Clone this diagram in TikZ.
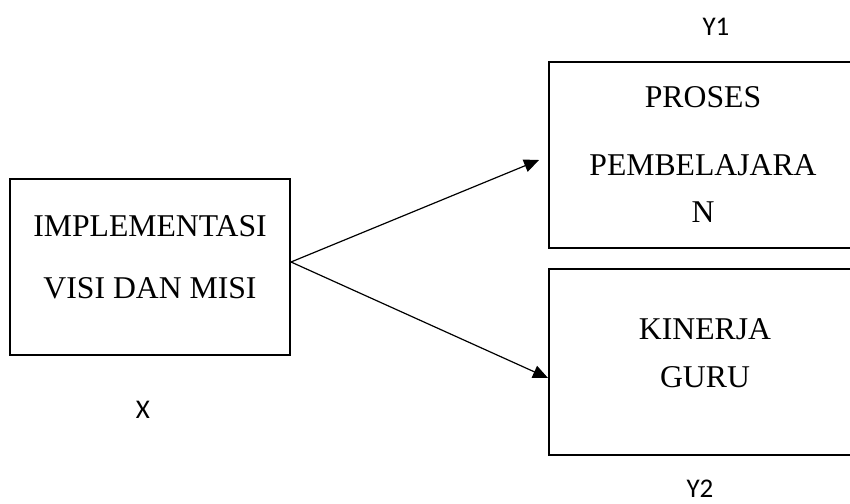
\documentclass[tikz,border=0pt]{standalone}
\usepackage{fontspec}
\setmainfont{Liberation Serif}
\newfontfamily\labfont{Carlito}
\usetikzlibrary{arrows.meta}
\begin{document}
\begin{tikzpicture}[x=1pt,y=-1pt,
  box/.style={draw,line width=2.2pt,inner sep=0pt},
  txt/.style={anchor=base,inner sep=0pt,font=\fontsize{31.7}{38}\selectfont},
  lab/.style={anchor=base,inner sep=0pt,font=\labfont\fontsize{27}{32}\selectfont},
  arr/.style={line width=1.2pt,-{Triangle[length=15pt,width=13pt]}}]
\useasboundingbox (0,0) rectangle (850,503);
\clip (0,0) rectangle (850,503);
% boxes
\node[box,minimum width=280pt,minimum height=176pt] (L) at (150,267) {};
\node[box,minimum width=308pt,minimum height=186pt] (P1) at (703,155) {};
\node[box,minimum width=308pt,minimum height=186pt] (P2) at (703,362) {};
% box texts
\node[txt] (t1) at (150,236) {IMPLEMENTASI};
\node[txt] (t2) at (150,298) {VISI DAN MISI};
\node[txt] (t3) at (703,107) {PROSES};
\node[txt] (t4) at (703,175) {PEMBELAJARA};
\node[txt] (t5) at (703,222) {N};
\node[txt] (t6) at (705,339) {KINERJA};
\node[txt] (t7) at (705,387) {GURU};
% labels
\node[lab] (lx) at (143,418) {X};
\node[lab] (ly1) at (716,36) {Y1};
\node[lab] (ly2) at (700,497) {Y2};
% connectors
\coordinate (o) at (291,262);
\coordinate (e1) at (539,160);
\coordinate (e2) at (548,378);
\draw[arr] (o) -- (e1);
\draw[arr] (o) -- (e2);
\end{tikzpicture}
\end{document}
